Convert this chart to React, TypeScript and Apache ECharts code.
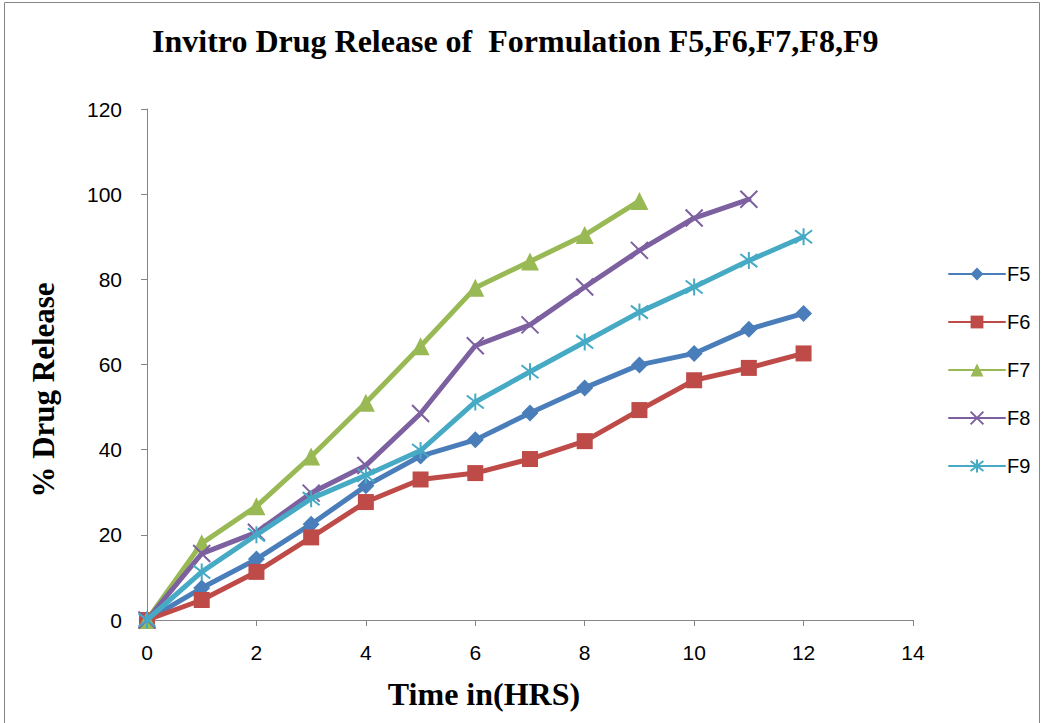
import React, { useEffect, useRef } from "react";
import * as echarts from "echarts";

const hours = [0, 1, 2, 3, 4, 5, 6, 7, 8, 9, 10, 11, 12];
const f5 = [0, 7.5, 14.3, 22.5, 31.5, 38.5, 42.3, 48.6, 54.5, 59.9, 62.6, 68.3, 72];
const f6 = [0, 4.7, 11.3, 19.4, 27.7, 33, 34.5, 37.8, 42, 49.3, 56.3, 59.2, 62.6];
const f7 = [0, 18, 26.7, 38.4, 51, 64.3, 78, 84.2, 90.4, 98.4];
const f8 = [0, 15.6, 20.6, 29.8, 36.3, 48.5, 64.4, 69.3, 78.2, 86.8, 94.4, 98.8];
const f9 = [0, 11.3, 20, 28.5, 34, 39.8, 51.2, 58.3, 65.3, 72.3, 78.2, 84.4, 90];
const seriesNames = ["F5", "F6", "F7", "F8", "F9"];
const xTicks = { min: 0, max: 14, interval: 2 };
const yTicks = { min: 0, max: 120, interval: 20 };

const colors = ["#4A7EBB", "#BE4B48", "#98B954", "#7D60A0", "#46AAC5"];
const symbols = [
  "diamond",
  "rect",
  "triangle",
  "path://M0,0L10,10M10,0L0,10",
  "path://M0,0L10,10M10,0L0,10M5,-1.5L5,11.5",
];
const sizes = [17, 16, 18, 17, 17];

const tickLabel = {
  fontFamily: "Liberation Sans",
  fontSize: 21,
  color: "#000",
};

export default function App() {
  const ref = useRef<HTMLDivElement>(null);
  useEffect(() => {
    const chart = echarts.init(ref.current!, undefined, { renderer: "svg" });
    const all = [f5, f6, f7, f8, f9];
    const series = all.map((vals, i) => ({
      name: seriesNames[i],
      type: "line",
      data: vals.map((v, j) => [hours[j], v]),
      symbol: symbols[i],
      symbolSize: sizes[i],
      lineStyle: { color: colors[i], width: 5, cap: "round", join: "round" },
      itemStyle: {
        color: colors[i],
        borderColor: colors[i],
        borderWidth: i >= 3 ? 2 : 0,
      },
      z: 2 + i,
    }));
    chart.setOption({
      animation: false,
      backgroundColor: "#fff",
      textStyle: { fontFamily: "Liberation Sans", fontSize: 21 },
      title: {
        text: "Invitro Drug Release of  Formulation F5,F6,F7,F8,F9",
        left: 147,
        top: 20,
        textStyle: {
          fontFamily: "Liberation Serif",
          fontWeight: "bold",
          fontSize: 32,
          color: "#000",
        },
      },
      graphic: [
        {
          type: "rect",
          shape: { x: 4.5, y: 2.5, width: 1035, height: 740 },
          style: { fill: "none", stroke: "#868686", lineWidth: 1 },
          silent: true,
        },
        {
          type: "text",
          x: 484,
          y: 694,
          style: {
            text: "Time in(HRS)",
            font: "bold 32px 'Liberation Serif'",
            fill: "#000",
            align: "center",
            verticalAlign: "middle",
          },
        },
        {
          type: "text",
          x: 43,
          y: 390,
          rotation: Math.PI / 2,
          style: {
            text: "% Drug Release",
            font: "bold 31px 'Liberation Serif'",
            fill: "#000",
            align: "center",
            verticalAlign: "middle",
          },
        },
      ],
      legend: {
        orient: "vertical",
        left: 943,
        top: 259,
        itemWidth: 56,
        itemHeight: 16,
        itemGap: 28,
        textStyle: { fontFamily: "Liberation Sans", fontSize: 20, lineHeight: 20, color: "#000", padding: [0, 0, 0, -3] },
        data: seriesNames,
      },
      grid: { left: 147, right: 129, top: 109, bottom: 103 },
      xAxis: {
        type: "value",
        ...xTicks,
        axisLine: { lineStyle: { color: "#868686", width: 1 } },
        axisTick: { show: true, length: 6, lineStyle: { color: "#868686" } },
        axisLabel: { ...tickLabel, margin: 22 },
        splitLine: { show: false },
      },
      yAxis: {
        type: "value",
        ...yTicks,
        axisLine: { show: true, lineStyle: { color: "#868686", width: 1 } },
        axisTick: { show: true, length: 6, lineStyle: { color: "#868686" } },
        axisLabel: { ...tickLabel, margin: 25 },
        splitLine: { show: false },
      },
      series,
    });
    return () => chart.dispose();
  }, []);
  return (
    <div
      ref={ref}
      style={{ position: "fixed", left: 0, top: 0, width: 1042, height: 723 }}
    />
  );
}
